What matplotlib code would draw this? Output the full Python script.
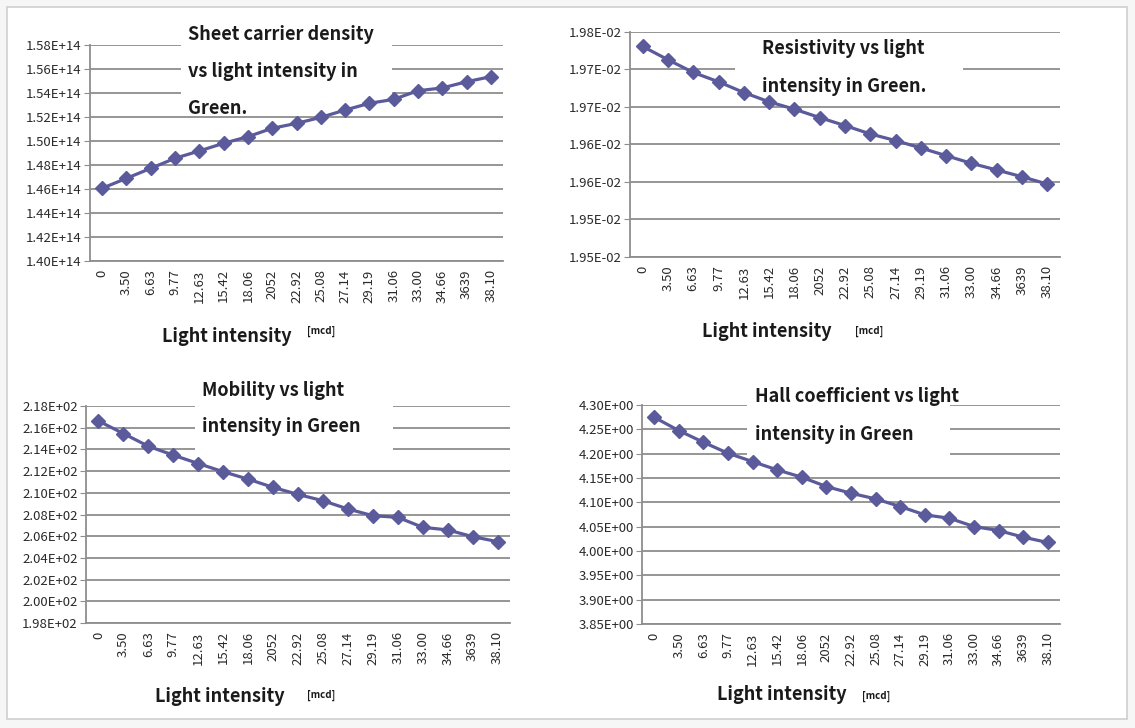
import matplotlib
matplotlib.use("Agg")
import matplotlib.pyplot as plt
from matplotlib.patches import Rectangle

W, H = 1135, 728

# light intensity categories (mcd), as printed on the axis
intensity_labels = ["0", "3.50", "6.63", "9.77", "12.63", "15.42", "18.06", "2052",
                    "22.92", "25.08", "27.14", "29.19", "31.06", "33.00", "34.66",
                    "3639", "38.10"]

# sheet carrier density (x1e14)
sheet_density = [1.4606, 1.4689, 1.4772, 1.4856, 1.4917, 1.4981, 1.5036, 1.5106,
                 1.5147, 1.5197, 1.5258, 1.5314, 1.5347, 1.5419, 1.5442, 1.5494, 1.5536]
# resistivity (x1e-2)
resistivity = [1.97808, 1.9763, 1.97461, 1.97336, 1.97193, 1.97069, 1.96971, 1.96859,
               1.96752, 1.96641, 1.96552, 1.96454, 1.96351, 1.96249, 1.9616, 1.9607, 1.95972]
# mobility (x1e2)
mobility = [2.1662, 2.1546, 2.1429, 2.1347, 2.127, 2.1194, 2.1126, 2.105, 2.0985,
            2.0927, 2.0851, 2.0789, 2.0774, 2.0682, 2.0658, 2.0596, 2.055]
# hall coefficient
hall_coef = [4.2747, 4.2473, 4.2234, 4.2008, 4.1837, 4.1666, 4.1516, 4.1324, 4.1187,
             4.1071, 4.0914, 4.0743, 4.0674, 4.0503, 4.0421, 4.0285, 4.0175]

ticks_density = [1.40, 1.42, 1.44, 1.46, 1.48, 1.50, 1.52, 1.54, 1.56, 1.58]
ticklabels_density = ["1.40E+14", "1.42E+14", "1.44E+14", "1.46E+14", "1.48E+14",
                      "1.50E+14", "1.52E+14", "1.54E+14", "1.56E+14", "1.58E+14"]
ticks_res = [1.950, 1.955, 1.960, 1.965, 1.970, 1.975, 1.980]
ticklabels_res = ["1.95E-02", "1.95E-02", "1.96E-02", "1.96E-02", "1.97E-02",
                  "1.97E-02", "1.98E-02"]
ticks_mob = [1.98, 2.00, 2.02, 2.04, 2.06, 2.08, 2.10, 2.12, 2.14, 2.16, 2.18]
ticklabels_mob = ["1.98E+02", "2.00E+02", "2.02E+02", "2.04E+02", "2.06E+02",
                  "2.08E+02", "2.10E+02", "2.12E+02", "2.14E+02", "2.16E+02", "2.18E+02"]
ticks_hall = [3.85, 3.90, 3.95, 4.00, 4.05, 4.10, 4.15, 4.20, 4.25, 4.30]
ticklabels_hall = ["3.85E+00", "3.90E+00", "3.95E+00", "4.00E+00", "4.05E+00",
                   "4.10E+00", "4.15E+00", "4.20E+00", "4.25E+00", "4.30E+00"]

LINE_COL = "#5b5b9b"
GRID_COL = "#8e8e8e"
FONT = ["Noto Sans CJK KR", "DejaVu Sans"]

fig = plt.figure(figsize=(W / 100, H / 100), dpi=100, facecolor="#f6f6f6")
fig.patches.append(Rectangle((7 / W, 1 - 719 / H), 1120 / W, 712 / H,
                             transform=fig.transFigure, facecolor="white",
                             edgecolor="#cfcfcf", lw=1.2, zorder=-5))


def px_axes(l, t, r, b):
    return fig.add_axes([l / W, 1 - b / H, (r - l) / W, (b - t) / H])


def panel(box, values, ticks, ticklabels, title_lines, title_xy, title_box,
          xlabel_xy, mcd_xy):
    ax = px_axes(*box)
    ax.set_facecolor("none")
    xs = list(range(len(values)))
    ax.plot(xs, values, color=LINE_COL, lw=2.3, marker="D", markersize=7.5, zorder=3,
            clip_on=False)
    ax.set_xlim(-0.5, len(values) - 0.5)
    ax.set_ylim(ticks[0], ticks[-1])
    ax.set_yticks(ticks)
    ax.set_yticklabels(ticklabels, fontsize=9.5, color="#2a2a2a", family=FONT)
    ax.set_xticks(xs)
    ax.set_xticklabels(intensity_labels, rotation=90, fontsize=9.5,
                       color="#2a2a2a", family=FONT)
    ax.tick_params(axis="x", length=0, pad=6)
    ax.tick_params(axis="y", length=4, color=GRID_COL, pad=2)
    ax.grid(axis="y", color=GRID_COL, lw=1.3)
    ax.set_axisbelow(True)
    for side in ["top", "right"]:
        ax.spines[side].set_visible(False)
    for side in ["left", "bottom"]:
        ax.spines[side].set_color(GRID_COL)
        ax.spines[side].set_linewidth(1.3)

    # white box behind the title hides the gridlines
    bl, bt, br, bb = title_box
    ax.add_patch(Rectangle((bl / W, 1 - bb / H), (br - bl) / W, (bb - bt) / H,
                           transform=fig.transFigure, facecolor="white",
                           edgecolor="none", zorder=2, clip_on=False))
    tx, ty0, dy = title_xy
    for i, line in enumerate(title_lines):
        fig.text(tx / W, 1 - (ty0 + i * dy) / H, line, fontsize=13,
                 fontweight="bold", family=FONT, color="#1a1a1a",
                 va="center", ha="left", zorder=4)
    fig.text(xlabel_xy[0] / W, 1 - xlabel_xy[1] / H, "Light intensity",
             fontsize=13, fontweight="bold", family=FONT, color="#1a1a1a",
             va="center", ha="left")
    fig.text(mcd_xy[0] / W, 1 - mcd_xy[1] / H, "[mcd]", fontsize=7,
             fontweight="bold", family=FONT, color="#1a1a1a",
             va="center", ha="left")
    return ax


panel((90, 45, 503, 261), sheet_density, ticks_density, ticklabels_density,
      ["Sheet carrier density", "vs light intensity in", "Green."],
      (188, 35, 36.5), (181, 22, 392, 100), (162, 337), (307, 331))
panel((630, 32, 1060, 257), resistivity, ticks_res, ticklabels_res,
      ["Resistivity vs light", "intensity in Green."],
      (762, 48, 39), (735, 40, 963, 82), (702, 332), (855, 331))
panel((86, 406, 510, 623), mobility, ticks_mob, ticklabels_mob,
      ["Mobility vs light", "intensity in Green"],
      (202, 390, 37), (195, 375, 393, 457), (155, 697), (307, 695))
panel((642, 405, 1060, 624), hall_coef, ticks_hall, ticklabels_hall,
      ["Hall coefficient vs light", "intensity in Green"],
      (755, 397, 37), (747, 400, 950, 460), (717, 695), (862, 696))

fig.savefig("out.png", dpi=100, facecolor=fig.get_facecolor())
